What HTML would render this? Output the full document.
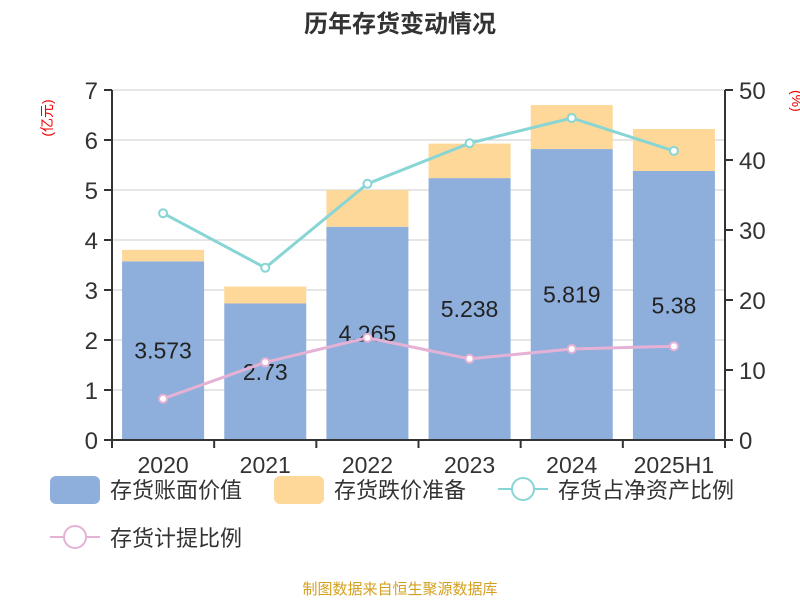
<!DOCTYPE html>
<html><head><meta charset="utf-8"><style>
body{margin:0;background:#fff;}
svg{display:block;font-family:"Liberation Sans","Noto Sans CJK SC",sans-serif;}
</style></head><body>
<svg id="c" width="800" height="600" viewBox="0 0 800 600">
<text x="400" y="32" text-anchor="middle" font-size="24" font-weight="bold" fill="#333">历年存货变动情况</text>
<text transform="translate(52,118) rotate(-90)" text-anchor="middle" font-size="14" fill="#e00">(亿元)</text>
<text transform="translate(792,90) rotate(90)" font-size="14" fill="#e00">(%)</text>
<g id="grid"></g><g id="bars"></g><g id="lines"></g><g id="axes"></g>
<g>
<rect x="50" y="476" width="50" height="28" rx="6" fill="#8eaedb"/>
<text x="110" y="498" font-size="22" fill="#333">存货账面价值</text>
<rect x="274" y="476" width="50" height="28" rx="6" fill="#fed898"/>
<text x="334" y="498" font-size="22" fill="#333">存货跌价准备</text>
<line x1="498" y1="489" x2="548" y2="489" stroke="#88d5d5" stroke-width="2"/>
<circle cx="523" cy="489" r="11" fill="#fff" stroke="#88d5d5" stroke-width="2"/>
<text x="558" y="498" font-size="22" fill="#333">存货占净资产比例</text>
<line x1="50" y1="537" x2="100" y2="537" stroke="#e5b2d6" stroke-width="2"/>
<circle cx="75" cy="537" r="11" fill="#fff" stroke="#e5b2d6" stroke-width="2"/>
<text x="110" y="546" font-size="22" fill="#333">存货计提比例</text>
</g>
<text x="400" y="594" text-anchor="middle" font-size="15" fill="#d4a020">制图数据来自恒生聚源数据库</text>
</svg>
<script>
const categories=["2020","2021","2022","2023","2024","2025H1"];
const bookValue=[3.573,2.73,4.265,5.238,5.819,5.38];
const reserve=[0.23,0.34,0.735,0.69,0.88,0.84];
const ratioNet=[32.4,24.6,36.6,42.4,46.0,41.3];
const ratioProv=[5.9,11.1,14.6,11.6,13.0,13.4];
const leftTicks=[0,1,2,3,4,5,6,7];
const rightTicks=[0,10,20,30,40,50];
const NS="http://www.w3.org/2000/svg";
const X0=112,X1=725,Y0=440,Y1=90;
const yL=v=>Y0-(v/7)*(Y0-Y1);
const yR=v=>Y0-(v/50)*(Y0-Y1);
const step=(X1-X0)/categories.length;
const xC=i=>X0+step*(i+0.5);
function mk(tag,attrs,parent){const e=document.createElementNS(NS,tag);for(const k in attrs)e.setAttribute(k,attrs[k]);document.getElementById(parent).appendChild(e);return e;}
leftTicks.forEach(t=>{
 const g=mk("line",{x1:X0,x2:X1,y1:yL(t),y2:yL(t),stroke:"#ccc","stroke-width":1},"grid");
 
 
 mk("line",{x1:X0-8,x2:X0,y1:yL(t),y2:yL(t),stroke:"#333","stroke-width":2},"axes");
 const tx=mk("text",{x:X0-14,y:yL(t)+9,"text-anchor":"end","font-size":24,fill:"#333"},"axes");
 tx.textContent=t;
 
 
});
rightTicks.forEach(t=>{
 mk("line",{x1:X1,x2:X1+8,y1:yR(t),y2:yR(t),stroke:"#333","stroke-width":2},"axes");
 const tx=mk("text",{x:X1+14,y:yR(t)+9,"font-size":24,fill:"#333"},"axes");
 tx.textContent=t;
 
 
});
mk("line",{x1:X0,x2:X0,y1:Y1,y2:Y0,stroke:"#333","stroke-width":2},"axes");
mk("line",{x1:X1,x2:X1,y1:Y1,y2:Y0,stroke:"#333","stroke-width":2},"axes");
mk("line",{x1:X0,x2:X1,y1:Y0,y2:Y0,stroke:"#333","stroke-width":2},"axes");
const bw=82;
categories.forEach((c,i)=>{
 mk("line",{x1:X0+step*i,x2:X0+step*i,y1:Y0,y2:Y0+8,stroke:"#333","stroke-width":2},"axes");
 const b=mk("rect",{x:xC(i)-bw/2,y:yL(bookValue[i]),width:bw,height:Y0-yL(bookValue[i]),fill:"#8eaedb"},"bars");
 
 
 const top=bookValue[i]+reserve[i];
 const r=mk("rect",{x:xC(i)-bw/2,y:yL(top),width:bw,height:yL(bookValue[i])-yL(top),fill:"#fed898"},"bars");
 
 
 const l=mk("text",{x:xC(i),y:(yL(bookValue[i])+Y0)/2+8,"text-anchor":"middle","font-size":23,fill:"#222"},"bars");
 l.textContent=bookValue[i];
 
 
 const xl=mk("text",{x:xC(i),y:Y0+33,"text-anchor":"middle","font-size":23,fill:"#333"},"axes");
 xl.textContent=c;
 
 
});
mk("line",{x1:X1,x2:X1,y1:Y0,y2:Y0+8,stroke:"#333","stroke-width":2},"axes");
function series(vals,color,name){
 const p=mk("polyline",{points:vals.map((v,i)=>xC(i)+","+yR(v)).join(" "),fill:"none",stroke:color,"stroke-width":3},"lines");
 
 
 vals.forEach((v,i)=>{
  const d=mk("circle",{cx:xC(i),cy:yR(v),r:4,fill:"#fff",stroke:color,"stroke-width":2},"lines");
  
  
 });
}
series(ratioNet,"#88d5d5","ratio-net");
series(ratioProv,"#e5b2d6","ratio-provision");
</script>
</body></html>
